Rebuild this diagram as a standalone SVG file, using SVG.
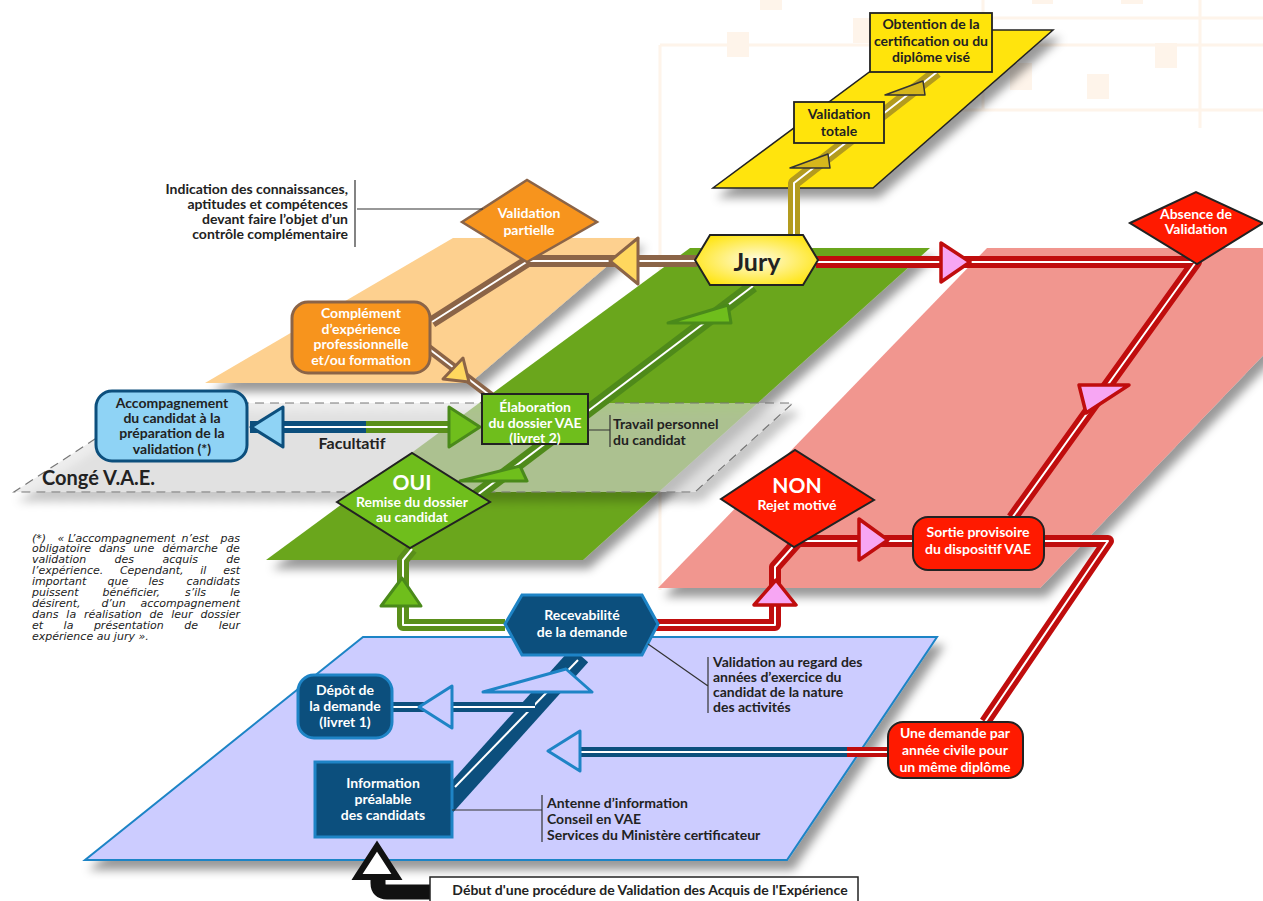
<svg xmlns="http://www.w3.org/2000/svg" width="1263" height="901" viewBox="0 0 1263 901">
<defs>
<style>
.t{font-family:Lato,"Liberation Sans",sans-serif;font-weight:700;font-size:14px;text-anchor:middle}
.w{fill:#fff}
.d{fill:#222}
.an{font-family:Lato,"Liberation Sans",sans-serif;font-weight:700;font-size:14px;fill:#222}
.fn{font-family:"DejaVu Sans",sans-serif;font-style:italic;font-size:11px;fill:#222}
.band{fill:none;stroke-linejoin:round;stroke-width:12}
.wl{fill:none;stroke:#fff;stroke-width:2;stroke-linejoin:round}
.olive{stroke:#b39b1e}
.brown{stroke:#8b6447}
.gband{stroke:#4f8a1a}
.gband2{stroke:#5a8f1a}
.red{stroke:#c00d0d}
.blue{stroke:#0c4f7d}
.plane{filter:url(#sh)}
.arr-olive{fill:#d6b71c;stroke:#333;stroke-width:1.5;stroke-linejoin:round}
.arr-yel{fill:#ffd75e;stroke:#8b6447;stroke-width:3;stroke-linejoin:round}
.arr-grn{fill:#6fbe1c;stroke:#4a8a1a;stroke-width:3;stroke-linejoin:round}
.arr-lb{fill:#8fd3f5;stroke:#0c4f7d;stroke-width:3;stroke-linejoin:round}
.arr-pink{fill:#f7a6f3;stroke:#c00d0d;stroke-width:3.5;stroke-linejoin:round}
.arr-bl{fill:#ccccff;stroke:#1e84c6;stroke-width:3;stroke-linejoin:round}
.ybox{fill:#ffe40b;stroke:#222;stroke-width:1.8}
.dbl{fill:#0c4f7d;stroke:#1e84c6;stroke-width:3}
.rbox{fill:#ff1a00;stroke:#222;stroke-width:2}
.gbox{fill:#6fbe1c;stroke:#222;stroke-width:2}
.ln{fill:none;stroke:#333;stroke-width:1.2}
.bg{fill:#fef4ea}
.bgl{fill:none;stroke:#fef4ea;stroke-width:3}
</style>
<filter id="sh" x="-10%" y="-10%" width="130%" height="140%">
<feDropShadow dx="6" dy="9" stdDeviation="5" flood-color="#000" flood-opacity="0.4"/>
</filter>
<radialGradient id="jg" cx="50%" cy="50%" r="60%">
<stop offset="0" stop-color="#fffbe0"/>
<stop offset="1" stop-color="#ffe40b"/>
</radialGradient>
<path id="cOlive" d="M794 236 L794 183 L937 72"/>
<path id="cBrown1" d="M697 261 L528 261 L432 322"/>
<path id="cBrown2" d="M424 345 L492 397"/>
<path id="cGreenMain" d="M468 502 L753 286"/>
<path id="cGreenOui" d="M505 625 L403 625 L403 560 L412 549"/>
<path id="cFacB" d="M250 427 L366 427"/>
<path id="cFacG" d="M366 427 L472 427"/>
<path id="cRed1" d="M816 262 L1196 262 L1012 518"/>
<path id="cRed2" d="M656 625 L775 625 L775 567 L798 541 L913 541"/>
<path id="cRed3" d="M1044 541 L1108 541 L985 722"/>
<path id="cRed4" d="M887 752 L847 752"/>
<path id="cBlueLong" d="M848 752 L560 752"/>
<path id="cLong" d="M887 752 L560 752"/>
<path id="cBlueMain" d="M580 655 L445 805"/>
<path id="cBlueMainW" d="M578 660 L455 787"/>
<path id="cBlueDep" d="M535 707 L392 707"/>
</defs>

<g id="background">
<rect width="1263" height="901" fill="#fff"/>
<path class="bgl" d="M660 45 H1263 M660 45 V590 M983 0 V110 M983 18 H1263 M870 110 H1263 M1200 0 V128"/>
<rect class="bg" x="727" y="32" width="22" height="25"/>
<rect class="bg" x="760" y="0" width="22" height="10"/>
<rect class="bg" x="853" y="18" width="22" height="25"/>
<rect class="bg" x="1087" y="74" width="22" height="25"/>
<rect class="bg" x="1155" y="43" width="22" height="25"/>
<rect class="bg" x="1010" y="63" width="22" height="27"/>
<rect class="bg" x="1032" y="0" width="21" height="4"/>
<rect class="bg" x="1121" y="0" width="22" height="4"/>
</g>

<g id="planes">
<polygon class="plane" points="713,188 873,188 1053,30 926,30" fill="#ffe40b" stroke="#222" stroke-width="1.5"/>
<polygon class="plane" points="205,383 470,383 640,238 453,238" fill="#fdd08f"/>
<polygon class="plane" points="987,248 1366,248 1040,588 658,588" fill="#f1968f"/>
<polygon class="plane" points="266,560 583,560 930,248 690,248" fill="#6aa61e"/>
<polygon class="plane" points="150,403 793,403 695,492 14,492" fill="#e0e0e0" fill-opacity="0.55" stroke="#777" stroke-width="1.2" stroke-dasharray="9,6"/>
<polygon class="plane" points="363,637 937,637 787,860 85,860" fill="#ccccff" stroke="#1e84c6" stroke-width="2"/>
</g>

<g id="connectors">
<use href="#cOlive" class="band olive"/><use href="#cOlive" class="wl"/>
<use href="#cBrown1" class="band brown"/><use href="#cBrown1" class="wl"/>
<use href="#cBrown2" class="band brown" style="stroke-width:9"/><use href="#cBrown2" class="wl"/>
<use href="#cGreenMain" class="band gband" style="stroke-width:13"/><use href="#cGreenMain" class="wl"/>
<use href="#cGreenOui" class="band gband2"/><use href="#cGreenOui" class="wl"/>
<use href="#cFacB" class="band blue"/><use href="#cFacG" class="band gband2"/>
<path class="wl" d="M250 427 L472 427"/>
<use href="#cRed1" class="band red"/><use href="#cRed1" class="wl"/>
<use href="#cRed2" class="band red"/><use href="#cRed2" class="wl"/>
<use href="#cRed3" class="band red"/><use href="#cRed3" class="wl"/>
<use href="#cBlueLong" class="band blue" style="stroke-width:10"/><use href="#cRed4" class="band red" style="stroke-width:10"/><use href="#cLong" class="wl"/>
<use href="#cBlueMain" class="band blue" style="stroke-width:22"/><use href="#cBlueMainW" class="wl"/>
<use href="#cBlueDep" class="band blue" style="stroke-width:10"/><use href="#cBlueDep" class="wl"/>
<path d="M432 892 L387 892 Q378 892 378 883 L378 874" fill="none" stroke="#111" stroke-width="15" stroke-linejoin="round"/>
<polygon class="arr-olive" points="790,168 828,154 830,168"/>
<polygon class="arr-olive" points="885,95 923,81 925,95"/>
<polygon class="arr-yel" points="610,261 638,238 638,284"/>
<polygon class="arr-yel" points="443,379 463,358 469,382"/>
<polygon class="arr-grn" points="668,323 728,305 731,323"/>
<polygon class="arr-grn" points="460,481 520,466 527,481"/>
<polygon class="arr-grn" points="381,606 402,578 421,606"/>
<polygon class="arr-grn" points="449,407 449,447 480,427"/>
<polygon class="arr-lb" points="251,427 283,407 283,447"/>
<polygon class="arr-pink" points="941,243 941,282 970,262"/>
<polygon class="arr-pink" points="1079,385 1129,385 1086,413"/>
<polygon class="arr-pink" points="754,605 776,580 796,605"/>
<polygon class="arr-pink" points="859,519 859,560 888,540"/>
<polygon class="arr-bl" points="483,692 566,669 592,692"/>
<polygon class="arr-bl" points="419,707 452,686 452,728"/>
<polygon class="arr-bl" points="548,751 580,731 580,771"/>
<polygon points="357,877 377,846 397,877" fill="#fff" stroke="#111" stroke-width="6" stroke-linejoin="miter"/>
</g>

<g id="n-obtention">
<rect class="ybox" x="870" y="13" width="122" height="59"/>
<text class="t d"><tspan x="931" y="29">Obtention de la</tspan><tspan x="931" y="46">certification ou du</tspan><tspan x="931" y="62">diplôme visé</tspan></text>
</g>
<g id="n-validation-totale">
<rect class="ybox" x="794" y="102" width="90" height="41"/>
<text class="t d"><tspan x="839" y="119">Validation</tspan><tspan x="839" y="136">totale</tspan></text>
</g>
<g id="n-jury">
<polygon points="695,260 710,235 803,235 818,260 803,285 710,285" fill="url(#jg)" stroke="#222" stroke-width="2"/>
<text class="t d" x="757" y="271" style="font-size:25px">Jury</text>
</g>
<g id="n-validation-partielle">
<polygon points="462,222 527,180 597,222 527,262" fill="#f7941d" stroke="#8b6447" stroke-width="2.5"/>
<text class="t w"><tspan x="529" y="218">Validation</tspan><tspan x="529" y="235">partielle</tspan></text>
</g>
<g id="n-complement">
<rect x="292" y="302" width="138" height="71" rx="16" fill="#f7941d" stroke="#8b6447" stroke-width="3"/>
<text class="t w"><tspan x="361" y="318">Complément</tspan><tspan x="361" y="334">d’expérience</tspan><tspan x="361" y="349">professionnelle</tspan><tspan x="361" y="365">et/ou formation</tspan></text>
</g>
<g id="n-elaboration">
<rect class="gbox" x="482" y="394" width="106" height="50"/>
<text class="t w"><tspan x="535" y="412">Élaboration</tspan><tspan x="535" y="428">du dossier VAE</tspan><tspan x="535" y="443">(livret 2)</tspan></text>
</g>
<g id="n-accompagnement">
<rect x="96" y="391" width="151" height="70" rx="16" fill="#8fd3f5" stroke="#0c4f7d" stroke-width="3"/>
<text class="t d"><tspan x="172" y="408">Accompagnement</tspan><tspan x="172" y="423">du candidat à la</tspan><tspan x="172" y="438">préparation de la</tspan><tspan x="172" y="454">validation (*)</tspan></text>
</g>
<g id="n-oui">
<polygon class="gbox" points="337,502 412,453 490,502 410,548"/>
<text class="t w" x="412" y="490" style="font-size:21px">OUI</text>
<text class="t w"><tspan x="412" y="507">Remise du dossier</tspan><tspan x="412" y="522">au candidat</tspan></text>
</g>
<g id="n-non">
<polygon class="rbox" points="721,499 795,450 874,500 794,547"/>
<text class="t w" x="797" y="493" style="font-size:21px">NON</text>
<text class="t w" x="797" y="510">Rejet motivé</text>
</g>
<g id="n-absence">
<polygon class="rbox" points="1130,223 1196,192 1263,223 1197,264"/>
<text class="t w"><tspan x="1196" y="219">Absence de</tspan><tspan x="1196" y="234">Validation</tspan></text>
</g>
<g id="n-sortie">
<rect class="rbox" x="913" y="517" width="131" height="53" rx="15"/>
<text class="t w"><tspan x="978" y="537">Sortie provisoire</tspan><tspan x="978" y="554">du dispositif VAE</tspan></text>
</g>
<g id="n-une-demande">
<rect class="rbox" x="888" y="722" width="135" height="56" rx="15"/>
<text class="t w"><tspan x="955" y="738">Une demande par</tspan><tspan x="955" y="755">année civile pour</tspan><tspan x="955" y="772">un même diplôme</tspan></text>
</g>
<g id="n-recevabilite">
<polygon class="dbl" points="505,624 522,595 642,595 658,624 642,655 522,655"/>
<text class="t w"><tspan x="582" y="620">Recevabilité</tspan><tspan x="582" y="637">de la demande</tspan></text>
</g>
<g id="n-depot">
<rect class="dbl" x="298" y="675" width="94" height="63" rx="16"/>
<text class="t w"><tspan x="345" y="695">Dépôt de</tspan><tspan x="345" y="711">la demande</tspan><tspan x="345" y="727">(livret 1)</tspan></text>
</g>
<g id="n-information">
<rect class="dbl" x="315" y="762" width="137" height="75"/>
<text class="t w"><tspan x="383" y="788">Information</tspan><tspan x="383" y="804">préalable</tspan><tspan x="383" y="820">des candidats</tspan></text>
</g>
<g id="n-debut">
<rect x="430" y="877" width="428" height="32" fill="#fff" stroke="#222" stroke-width="1.5"/>
<text class="t d" x="650" y="895">Début d'une procédure de Validation des Acquis de l'Expérience</text>
</g>

<g id="annotations">
<path class="ln" d="M355 180 V247 M357 209 H483"/>
<text class="an" style="text-anchor:end"><tspan x="348" y="194">Indication des connaissances,</tspan><tspan x="348" y="209">aptitudes et compétences</tspan><tspan x="348" y="224">devant faire l’objet d’un</tspan><tspan x="348" y="239">contrôle complémentaire</tspan></text>
<path class="ln" d="M588 430 H610 M610 415 V447"/>
<text class="an"><tspan x="613" y="429">Travail personnel</tspan><tspan x="613" y="445">du candidat</tspan></text>
<path class="ln" d="M648 644 L708 686 M708 657 V713"/>
<text class="an"><tspan x="713" y="667">Validation au regard des</tspan><tspan x="713" y="682">années d’exercice du</tspan><tspan x="713" y="697">candidat de la nature</tspan><tspan x="713" y="712">des activités</tspan></text>
<path class="ln" d="M452 810 H542 M542 795 V842"/>
<text class="an"><tspan x="547" y="808">Antenne d’information</tspan><tspan x="547" y="824">Conseil en VAE</tspan><tspan x="547" y="840">Services du Ministère certificateur</tspan></text>
<text class="an" x="352" y="449" style="text-anchor:middle;font-size:16px">Facultatif</text>
<text class="an" x="42" y="485" style="font-size:20px">Congé V.A.E.</text>
</g>

<g id="footnote" class="fn">
<text y="541.5"><tspan x="32">(*)</tspan><tspan x="57.6">« L’accompagnement</tspan><tspan x="181.6">n’est</tspan><tspan x="240" text-anchor="end">pas</tspan></text>
<text x="32" y="552.4" word-spacing="4.6">obligatoire dans une démarche de</text>
<text y="563.3"><tspan x="32">validation</tspan><tspan x="114.5">des</tspan><tspan x="162.4">acquis</tspan><tspan x="240" text-anchor="end">de</tspan></text>
<text y="574.2"><tspan x="32">l’expérience.</tspan><tspan x="119.9">Cependant,</tspan><tspan x="200.3">il</tspan><tspan x="240" text-anchor="end">est</tspan></text>
<text y="585.1"><tspan x="32">important</tspan><tspan x="107.6">que</tspan><tspan x="148.5">les</tspan><tspan x="240" text-anchor="end">candidats</tspan></text>
<text y="596"><tspan x="32">puissent</tspan><tspan x="102.6">bénéficier,</tspan><tspan x="185">s’ils</tspan><tspan x="240" text-anchor="end">le</tspan></text>
<text y="606.9"><tspan x="32">désirent,</tspan><tspan x="101.4">d’un</tspan><tspan x="240" text-anchor="end">accompagnement</tspan></text>
<text x="32" y="617.8" word-spacing="4.4">dans la réalisation de leur dossier</text>
<text y="628.7"><tspan x="32">et</tspan><tspan x="63.6">la</tspan><tspan x="93.9">présentation</tspan><tspan x="184.3">de</tspan><tspan x="240" text-anchor="end">leur</tspan></text>
<text x="32" y="639.6">expérience au jury ».</text>
</g>
</svg>
